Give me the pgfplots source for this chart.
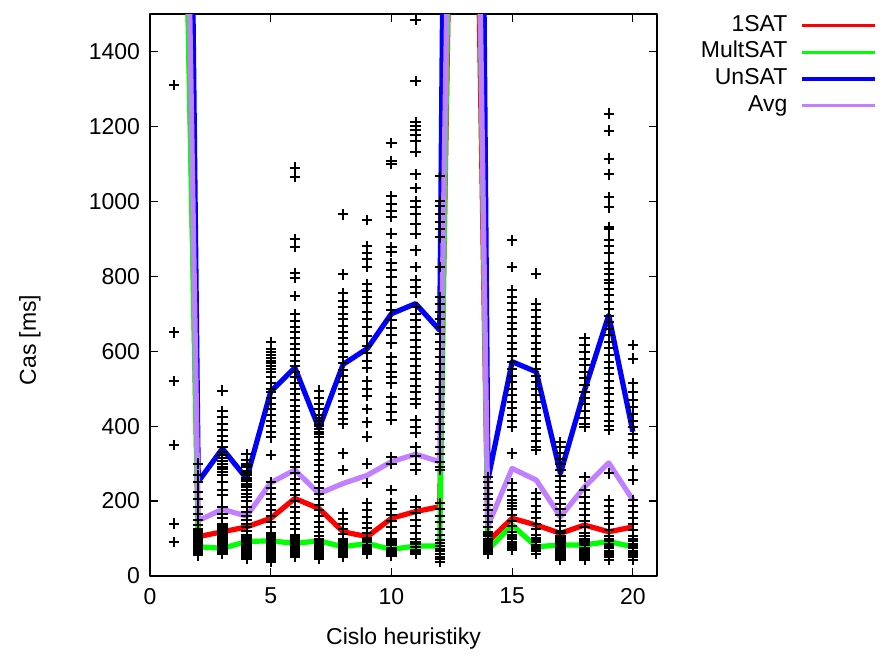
\documentclass[border=0pt]{standalone}
\usepackage{fontspec}
\setmainfont{Liberation Sans}
\usepackage{pgfplots}
\pgfplotsset{compat=1.18}
\definecolor{cred}{RGB}{255,0,0}
\definecolor{cgreen}{RGB}{0,255,0}
\definecolor{cblue}{RGB}{0,0,255}
\definecolor{cpurp}{RGB}{192,128,255}
\begin{document}
\fontsize{11.5}{13.8}\selectfont
\begin{tikzpicture}
\begin{axis}[
  name=ax,
  scale only axis,
  width=253.5pt, height=281pt,
  xmin=0, xmax=21, ymin=0, ymax=1500,
  xtick={0,5,10,15,20},
  ytick={0,200,400,600,800,1000,1200,1400},
  /pgf/number format/assume math mode=true,
  /pgf/number format/1000 sep={},
  tick align=inside,
  major tick length=4pt,
  tick style={black, line width=0.6pt},
  axis line style={black, line width=0.7pt},
  xlabel={Cislo heuristiky},
  ylabel={Cas [ms]},
  xlabel style={at={(axis description cs:0.5,-0.112)}, anchor=center},
  ylabel style={at={(axis description cs:-0.237,0.42)}, anchor=center, rotate=0},
  xticklabel style={yshift=-2pt},
  yticklabel style={xshift=-1pt},
  legend style={at={(axis description cs:1.446,1.011)}, anchor=north east, draw=none, fill=none,
    nodes={inner sep=1.5pt, text height=8pt, text depth=2.35pt},
    column sep=5pt, legend cell align=right},
  legend plot pos=right,
  legend image code/.code={\draw[#1, line width=1.7pt] (0pt,0pt) -- (36.5pt,0pt);},
  line join=round,
]
\pgfplotsset{sc/.style={only marks, mark=+, mark size=2.6pt, black, line width=1pt, forget plot}}
\addplot[sc] coordinates {(1,1310)(1,650)(1,520)(1,350)(1,140)(1,90)};
\addplot[sc] coordinates {(2,300)(2,270)(2,250)(2,225)(2,205)(2,185)(2,165)(2,150)(2,135)(2,125)(2,115)(2,105)(2,98)(2,90)(2,84)(2,78)(2,72)(2,66)(2,60)(2,55)};
\addplot[sc] coordinates {(3,495)(3,440)(3,425)(3,405)(3,390)(3,375)(3,360)(3,345)(3,330)(3,315)(3,300)(3,285)(3,270)(3,250)(3,230)(3,215)(3,185)(3,165)(3,155)(3,140)(3,128)(3,118)(3,108)(3,98)(3,88)(3,78)(3,68)(3,58)};
\addplot[sc] coordinates {(4,325)(4,310)(4,300)(4,290)(4,280)(4,270)(4,262)(4,254)(4,246)(4,238)(4,230)(4,220)(4,210)(4,200)(4,185)(4,170)(4,160)(4,150)(4,140)(4,130)(4,120)(4,110)(4,100)(4,92)(4,84)(4,76)(4,68)(4,60)(4,52)(4,45)};
\addplot[sc] coordinates {(5,625)(5,605)(5,590)(5,575)(5,560)(5,545)(5,530)(5,515)(5,500)(5,490)(5,475)(5,460)(5,445)(5,430)(5,415)(5,400)(5,385)(5,370)(5,323)(5,250)(5,235)(5,220)(5,205)(5,190)(5,175)(5,160)(5,145)(5,130)(5,115)(5,105)(5,95)(5,85)(5,75)(5,65)(5,55)(5,45)(5,38)};
\addplot[sc] coordinates {(6,1090)(6,1065)(6,900)(6,878)(6,808)(6,795)(6,748)(6,700)(6,680)(6,665)(6,650)(6,635)(6,620)(6,605)(6,590)(6,575)(6,560)(6,545)(6,530)(6,515)(6,500)(6,485)(6,470)(6,455)(6,440)(6,425)(6,410)(6,395)(6,380)(6,365)(6,350)(6,335)(6,320)(6,305)(6,290)(6,275)(6,260)(6,245)(6,230)(6,215)(6,200)(6,185)(6,170)(6,155)(6,140)(6,125)(6,110)(6,100)(6,90)(6,80)(6,70)(6,60)(6,50)};
\addplot[sc] coordinates {(7,495)(7,475)(7,460)(7,445)(7,430)(7,415)(7,400)(7,385)(7,370)(7,355)(7,340)(7,325)(7,310)(7,295)(7,280)(7,265)(7,250)(7,235)(7,220)(7,205)(7,190)(7,175)(7,160)(7,145)(7,130)(7,118)(7,106)(7,95)(7,85)(7,75)(7,65)(7,55)(7,45)};
\addplot[sc] coordinates {(8,965)(8,805)(8,755)(8,735)(8,718)(8,700)(8,685)(8,668)(8,650)(8,635)(8,618)(8,600)(8,585)(8,568)(8,550)(8,535)(8,518)(8,500)(8,485)(8,468)(8,450)(8,435)(8,420)(8,407)(8,327)(8,283)(8,168)(8,152)(8,138)(8,125)(8,112)(8,100)(8,90)(8,80)(8,70)(8,60)(8,52)};
\addplot[sc] coordinates {(9,950)(9,880)(9,862)(9,845)(9,825)(9,780)(9,762)(9,745)(9,728)(9,705)(9,685)(9,665)(9,640)(9,615)(9,595)(9,575)(9,555)(9,520)(9,500)(9,480)(9,445)(9,410)(9,372)(9,300)(9,248)(9,195)(9,175)(9,158)(9,142)(9,128)(9,115)(9,102)(9,90)(9,78)(9,68)(9,58)};
\addplot[sc] coordinates {(10,1156)(10,1108)(10,1099)(10,1014)(10,994)(10,975)(10,958)(10,914)(10,878)(10,864)(10,835)(10,817)(10,798)(10,771)(10,750)(10,730)(10,709)(10,683)(10,662)(10,642)(10,621)(10,585)(10,565)(10,545)(10,530)(10,514)(10,478)(10,458)(10,438)(10,416)(10,318)(10,300)(10,229)(10,195)(10,178)(10,162)(10,146)(10,130)(10,115)(10,100)(10,88)(10,76)(10,64)(10,54)};
\addplot[sc] coordinates {(11,1485)(11,1321)(11,1211)(11,1200)(11,1190)(11,1178)(11,1160)(11,1131)(11,1072)(11,1035)(11,1000)(11,986)(11,967)(11,940)(11,914)(11,869)(11,825)(11,789)(11,772)(11,755)(11,718)(11,700)(11,683)(11,665)(11,648)(11,630)(11,612)(11,595)(11,578)(11,560)(11,543)(11,525)(11,508)(11,490)(11,473)(11,460)(11,416)(11,398)(11,381)(11,345)(11,320)(11,300)(11,283)(11,203)(11,185)(11,168)(11,150)(11,133)(11,116)(11,100)(11,85)(11,70)(11,58)};
\addplot[sc] coordinates {(12,1068)(12,1001)(12,988)(12,967)(12,945)(12,925)(12,904)(12,825)(12,745)(12,725)(12,705)(12,685)(12,665)(12,645)(12,625)(12,605)(12,585)(12,565)(12,545)(12,525)(12,505)(12,485)(12,465)(12,445)(12,425)(12,405)(12,385)(12,365)(12,345)(12,325)(12,305)(12,291)(12,283)(12,195)(12,178)(12,160)(12,143)(12,126)(12,110)(12,95)(12,80)(12,66)(12,52)(12,38)};
\addplot[sc] coordinates {(14,265)(14,250)(14,235)(14,220)(14,205)(14,190)(14,175)(14,160)(14,145)(14,130)(14,118)(14,106)(14,96)(14,86)(14,76)(14,68)(14,60)};
\addplot[sc] coordinates {(15,896)(15,825)(15,763)(15,745)(15,728)(15,710)(15,692)(15,675)(15,658)(15,640)(15,622)(15,605)(15,588)(15,570)(15,552)(15,535)(15,518)(15,500)(15,482)(15,465)(15,448)(15,430)(15,413)(15,398)(15,327)(15,247)(15,230)(15,213)(15,196)(15,180)(15,164)(15,148)(15,133)(15,118)(15,104)(15,92)(15,80)(15,69)};
\addplot[sc] coordinates {(16,807)(16,727)(16,710)(16,692)(16,675)(16,658)(16,640)(16,622)(16,605)(16,588)(16,570)(16,552)(16,535)(16,518)(16,500)(16,482)(16,465)(16,448)(16,430)(16,413)(16,395)(16,378)(16,360)(16,345)(16,336)(16,221)(16,205)(16,188)(16,172)(16,156)(16,140)(16,125)(16,110)(16,96)(16,84)(16,72)(16,60)};
\addplot[sc] coordinates {(17,358)(17,343)(17,328)(17,313)(17,298)(17,283)(17,268)(17,253)(17,238)(17,223)(17,208)(17,193)(17,178)(17,163)(17,148)(17,133)(17,120)(17,108)(17,96)(17,85)(17,74)(17,64)(17,54)(17,43)};
\addplot[sc] coordinates {(18,634)(18,616)(18,598)(18,580)(18,562)(18,545)(18,528)(18,510)(18,492)(18,475)(18,458)(18,440)(18,422)(18,405)(18,398)(18,265)(18,229)(18,212)(18,195)(18,178)(18,162)(18,146)(18,130)(18,115)(18,100)(18,88)(18,76)(18,64)(18,53)(18,43)};
\addplot[sc] coordinates {(19,1234)(19,1189)(19,1114)(19,1072)(19,1011)(19,984)(19,932)(19,925)(19,896)(19,880)(19,861)(19,835)(19,820)(19,805)(19,790)(19,781)(19,765)(19,749)(19,730)(19,712)(19,695)(19,678)(19,660)(19,642)(19,625)(19,608)(19,590)(19,572)(19,555)(19,538)(19,520)(19,502)(19,485)(19,468)(19,450)(19,432)(19,415)(19,400)(19,389)(19,274)(19,203)(19,186)(19,170)(19,154)(19,138)(19,122)(19,107)(19,93)(19,80)(19,68)(19,56)(19,43)};
\addplot[sc] coordinates {(20,616)(20,580)(20,514)(20,490)(20,469)(20,450)(20,432)(20,415)(20,398)(20,380)(20,362)(20,345)(20,327)(20,283)(20,256)(20,203)(20,186)(20,170)(20,154)(20,138)(20,122)(20,107)(20,93)(20,80)(20,68)(20,56)(20,43)};
% denser clusters near the bottom
\addplot[sc] coordinates {(2,62)(2,68)(2,75)(2,81)(2,87)(2,94)(2,101)(2,110)(2,120)
(3,63)(3,73)(3,83)(3,93)(3,103)(3,113)(3,123)(3,133)(3,278)(3,292)(3,308)(3,322)
(4,48)(4,56)(4,64)(4,72)(4,80)(4,88)(4,96)(4,104)(4,242)(4,258)(4,275)(4,295)
(5,42)(5,50)(5,60)(5,70)(5,80)(5,90)(5,100)(5,110)(5,552)(5,568)(5,582)(5,598)
(6,55)(6,65)(6,75)(6,85)(6,95)(6,105)
(7,50)(7,60)(7,70)(7,80)(7,90)(7,100)(7,378)(7,392)(7,407)(7,422)
(8,56)(8,65)(8,75)(8,85)(8,95)
(9,63)(9,73)(9,84)(9,96)
(10,59)(10,70)(10,82)(10,94)
(11,64)(11,77)(11,92)
(12,45)(12,59)(12,73)(12,87)
(14,64)(14,72)(14,80)(14,90)(14,100)(14,112)
(15,74)(15,86)(15,98)(15,110)(15,188)(15,204)
(16,66)(16,78)(16,90)(16,102)
(17,48)(17,59)(17,69)(17,79)(17,90)(17,102)(17,114)
(18,48)(18,58)(18,70)(18,82)(18,94)(18,106)
(19,50)(19,62)(19,74)(19,86)(19,100)
(20,50)(20,62)(20,74)(20,86)(20,100)};
% lines
\addplot[cred, line width=2.6pt, no marks] coordinates {(1,3500)(2,105)(3,118)(4,131)(5,154)(6,207)(7,180)(8,118)(9,105)(10,154)(11,172)(12,185)(13,4000)(14,92)(15,154)(16,136)(17,114)(18,136)(19,118)(20,131)};
\addlegendentry{1SAT}
\addplot[cgreen, line width=2.6pt, no marks] coordinates {(1,3400)(2,78)(3,74)(4,92)(5,94)(6,87)(7,94)(8,78)(9,87)(10,71)(11,80)(12,80)(13,4500)(14,70)(15,136)(16,78)(17,83)(18,83)(19,92)(20,78)};
\addlegendentry{MultSAT}
\addplot[cblue, line width=2.6pt, no marks] coordinates {(1,6000)(2,252)(3,340)(4,260)(5,492)(6,556)(7,394)(8,565)(9,607)(10,700)(11,727)(12,656)(13,8000)(14,258)(15,572)(16,545)(17,274)(18,496)(19,696)(20,385)};
\addlegendentry{UnSAT}
\addplot[cpurp, line width=2.6pt, no marks] coordinates {(1,4000)(2,148)(3,178)(4,160)(5,249)(6,283)(7,220)(8,247)(9,269)(10,305)(11,325)(12,305)(13,4500)(14,135)(15,287)(16,256)(17,158)(18,238)(19,302)(20,203)};
\addlegendentry{Avg}
\end{axis}
\pgfresetboundingbox
\path[use as bounding box] ([shift={(-75pt,-39pt)}]ax.south west) rectangle ([shift={(367.5pt,288pt)}]ax.south west);
\end{tikzpicture}
\end{document}
